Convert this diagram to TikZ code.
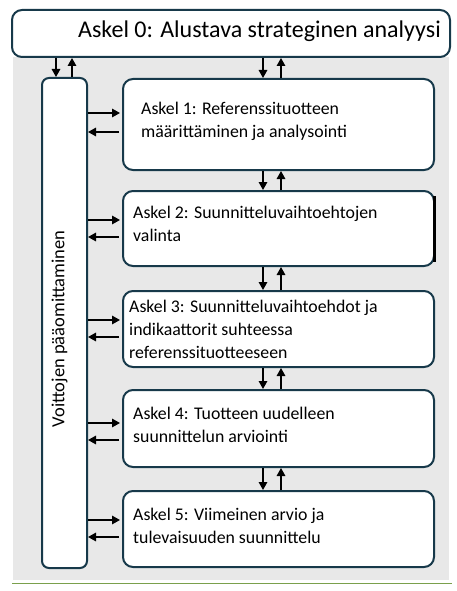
\documentclass[tikz,border=0pt]{standalone}
\usepackage{fontspec}
\setmainfont{Carlito}
\usetikzlibrary{arrows.meta}
\definecolor{bord}{HTML}{17394A}
\definecolor{bgray}{HTML}{E8E8E8}
\definecolor{grn}{HTML}{7AA04C}
\begin{document}
\begin{tikzpicture}[x=1pt,y=-1pt,
  box/.style={draw=bord, line width=2pt, fill=white, rounded corners=10pt, inner sep=0pt},
  arr/.style={line width=1.6pt, -{Triangle[length=8pt,width=8.5pt]}},
  steptext/.style={anchor=west, align=left, inner sep=0pt, font=\fontsize{17.8}{23}\selectfont}]
\useasboundingbox (0,0) rectangle (456,591);
\fill[bgray] (13,57) rectangle (449,580);
\draw[grn, line width=1pt] (12,583) -- (452,583);

\node[box, minimum width=438pt, minimum height=47pt] (s0) at (231,33.5) {};
\node[box, rounded corners=7pt, minimum width=45pt, minimum height=490pt] (L) at (64.5,323) {};
\node[box, minimum width=311pt, minimum height=91pt] (s1) at (278.5,124.5) {};
\node[box, minimum width=311pt, minimum height=75pt] (s2) at (278.5,228.5) {};
\node[box, minimum width=311pt, minimum height=76pt] (s3) at (278.5,329) {};
\node[box, minimum width=311pt, minimum height=77pt] (s4) at (278.5,428.5) {};
\node[box, minimum width=311pt, minimum height=76pt] (s5) at (278.5,529) {};

\draw[black, line width=3pt] ([yshift=-6pt,xshift=-0.5pt]s2.north east) -- ([yshift=5pt,xshift=-0.5pt]s2.south east);

\node[anchor=west, inner sep=0pt, font=\fontsize{24}{28}\selectfont] (t0) at (78,31) {Askel 0: Alustava strateginen analyysi};
\node[rotate=90, inner sep=0pt, font=\fontsize{18.5}{23}\selectfont] (tL) at (59.5,329) {Voittojen pääomittaminen};
\node[steptext] (t1) at (141,121.5) {Askel 1: Referenssituotteen\\määrittäminen ja analysointi};
\node[steptext] (t2) at (133,223.5) {Askel 2: Suunnitteluvaihtoehtojen\\valinta};
\node[steptext] (t3) at (129,329) {Askel 3: Suunnitteluvaihtoehdot ja\\indikaattorit suhteessa\\referenssituotteeseen};
\node[steptext] (t4) at (133,425) {Askel 4: Tuotteen uudelleen\\suunnittelun arviointi};
\node[steptext] (t5) at (133,525.5) {Askel 5: Viimeinen arvio ja\\tulevaisuuden suunnittelu};

% top box <-> left box
\draw[arr] (56,0 |- s0.south) -- (56,0 |- L.north);
\draw[arr] (72,0 |- L.north) -- (72,0 |- s0.south);
% top box <-> step 1
\draw[arr] (263,0 |- s0.south) -- (263,0 |- s1.north);
\draw[arr] (281,0 |- s1.north) -- (281,0 |- s0.south);
% between steps
\foreach \a/\b in {s1/s2,s2/s3,s3/s4,s4/s5}{
  \draw[arr] (263,0 |- \a.south) -- (263,0 |- \b.north);
  \draw[arr] (281,0 |- \b.north) -- (281,0 |- \a.south);
}
% side arrows
\foreach \s/\r/\l in {s1/113/132, s2/220/237, s3/320/337, s4/423/440, s5/520/537}{
  \draw[arr, shorten >=2pt] (L.east |- 0,\r) -- (\s.west |- 0,\r);
  \draw[arr] ([xshift=-3pt]\s.west |- 0,\l) -- (L.east |- 0,\l);
}
\end{tikzpicture}
\end{document}
